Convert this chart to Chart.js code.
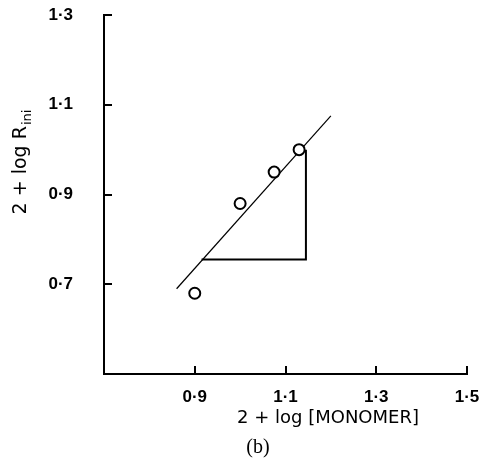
<!DOCTYPE html>
<html>
<head>
<meta charset="utf-8">
<script src="https://cdn.jsdelivr.net/npm/chart.js@4"></script>
<style>
	html, body { margin: 0; padding: 0; background: #fff; }
</style>
</head>
<body>
<canvas id="myChart" width="482" height="465"></canvas>
<script>
// measured points: 2 + log[monomer] vs 2 + log R_ini
var monomer = [0.9, 1.0, 1.075, 1.13];
var rateIni = [0.68, 0.88, 0.95, 1.0];

// fitted straight line
var fitX = [0.86, 1.2];
var fitY = [0.69, 1.075];

// slope triangle
var slopeX = [0.915, 1.145, 1.145];
var slopeY = [0.755, 0.755, 1.0];

var xTicks = [0.9, 1.1, 1.3, 1.5];
var yTicks = [0.7, 0.9, 1.1, 1.3];

function pairs(xs, ys) {
	return xs.map(function (x, i) { return { x: x, y: ys[i] }; });
}

function dotLabel(v) {
	return Number(v).toFixed(1).replace('.', '\u00b7');
}

// inward tick marks + axis titles
var decor = {
	id: 'decor',
	afterDraw: function (chart) {
		var ctx = chart.ctx;
		var area = chart.chartArea;
		var sx = chart.scales.x, sy = chart.scales.y;
		ctx.save();
		ctx.strokeStyle = '#000';
		ctx.lineWidth = 2;
		ctx.beginPath();
		sy.ticks.forEach(function (t) {
			var py = Math.round(sy.getPixelForValue(t.value));
			ctx.moveTo(area.left, py);
			ctx.lineTo(area.left + 8, py);
		});
		sx.ticks.forEach(function (t) {
			var px = Math.round(sx.getPixelForValue(t.value));
			ctx.moveTo(px, area.bottom);
			ctx.lineTo(px, area.bottom - 8);
		});
		ctx.stroke();

		ctx.fillStyle = '#000';
		// y title with subscript
		ctx.save();
		ctx.translate(21, 162);
		ctx.rotate(-Math.PI / 2);
		var main = '2 + log R';
		ctx.font = '13px "DejaVu Sans"';
		var subW = ctx.measureText('ini').width;
		ctx.font = '19px "DejaVu Sans"';
		var mainW = ctx.measureText(main).width;
		var start = -(mainW + subW + 1) / 2;
		ctx.textBaseline = 'middle';
		ctx.textAlign = 'left';
		ctx.fillText(main, start, 0);
		ctx.font = '13px "DejaVu Sans"';
		ctx.fillText('ini', start + mainW + 1, 7);
		ctx.restore();

		// x title
		ctx.textAlign = 'center';
		ctx.textBaseline = 'middle';
		ctx.font = '18px "DejaVu Sans"';
		ctx.fillText('2 + log [MONOMER]', 328, 418);

		ctx.font = '20px "Liberation Serif"';
		ctx.fillText('(b)', 258, 448);
		ctx.restore();
	}
};

var tickFont = { family: '"Liberation Sans", Arial, sans-serif', size: 17, weight: 'bold' };

new Chart(document.getElementById('myChart'), {
	type: 'scatter',
	data: {
		datasets: [
			{
				label: 'data',
				data: pairs(monomer, rateIni),
				pointStyle: 'circle',
				pointRadius: 5.5,
				pointBorderWidth: 2,
				pointBackgroundColor: '#fff',
				pointBorderColor: '#000',
				showLine: false,
				order: 0,
			},
			{
				label: 'fit',
				data: pairs(fitX, fitY),
				showLine: true,
				borderColor: '#000',
				borderWidth: 1.2,
				pointRadius: 0,
				order: 1,
			},
			{
				label: 'slope',
				data: pairs(slopeX, slopeY),
				showLine: true,
				borderColor: '#000',
				borderWidth: 2,
				pointRadius: 0,
				order: 2,
			},
		],
	},
	options: {
		responsive: false,
		animation: false,
		devicePixelRatio: 1,
		layout: { padding: { top: 15, right: 15, bottom: 0, left: 0 } },
		plugins: {
			legend: { display: false },
			tooltip: { enabled: false },
		},
		scales: {
			x: {
				type: 'linear',
				min: 0.7,
				max: 1.5,
				afterBuildTicks: function (s) {
					s.ticks = xTicks.map(function (v) { return { value: v }; });
				},
				afterFit: function (s) {
					s.height = 91;
					s.paddingLeft = 0;
					s.paddingRight = 0;
				},
				grid: { display: false, drawTicks: false },
				border: { display: true, color: '#000', width: 2 },
				ticks: { color: '#000', font: tickFont, padding: 13, maxRotation: 0, callback: dotLabel },
			},
			y: {
				type: 'linear',
				min: 0.5,
				max: 1.3,
				afterBuildTicks: function (s) {
					s.ticks = yTicks.map(function (v) { return { value: v }; });
				},
				afterFit: function (s) {
					s.width = 104;
					s.paddingTop = 0;
					s.paddingBottom = 0;
				},
				grid: { display: false, drawTicks: false },
				border: { display: true, color: '#000', width: 2 },
				ticks: { color: '#000', font: tickFont, padding: 31, callback: dotLabel },
			},
		},
	},
	plugins: [decor],
});
</script>
</body>
</html>
